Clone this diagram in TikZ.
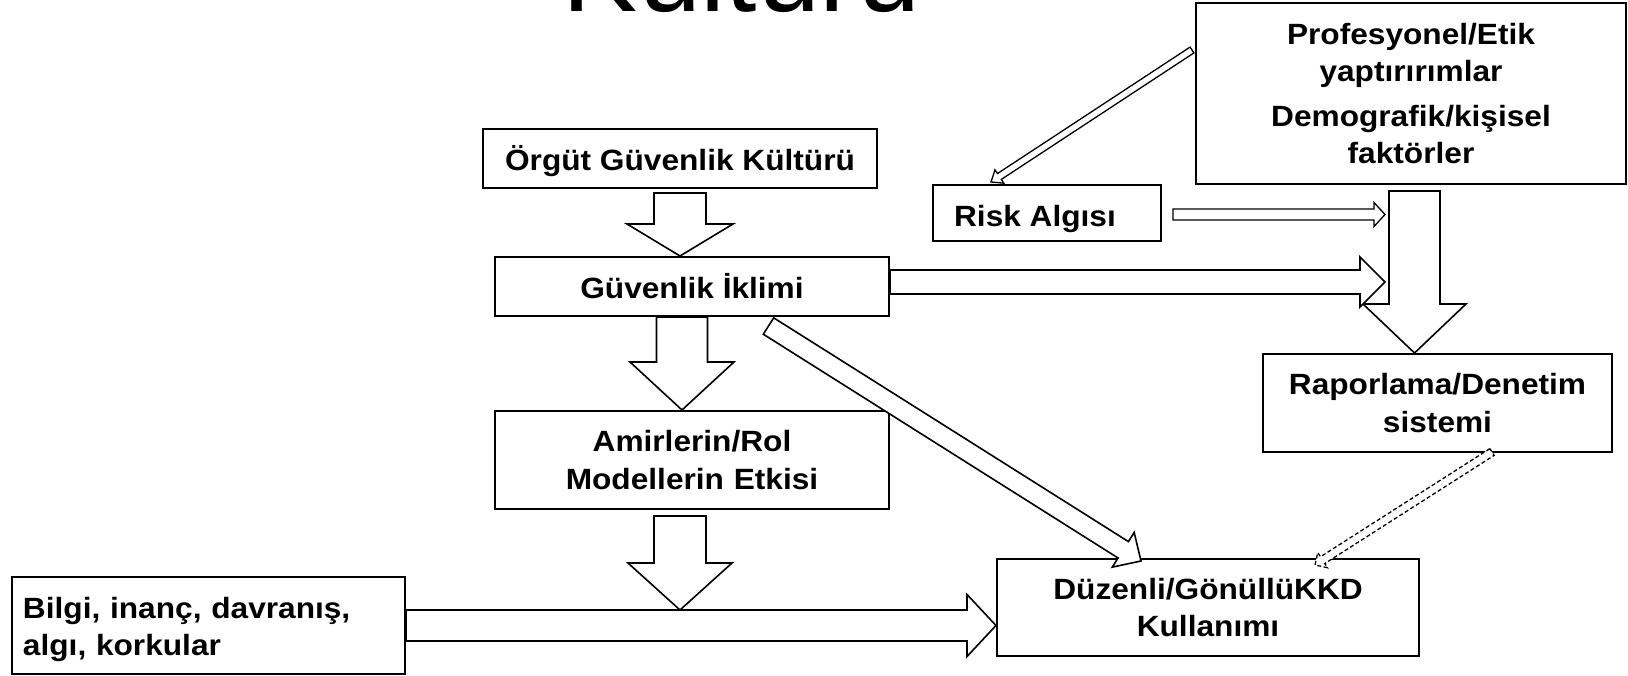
\documentclass[tikz,border=0pt]{standalone}
\usepackage{fontspec}
\setmainfont{Liberation Sans}[FakeStretch=1.08]
\newfontfamily\titlefont{Liberation Sans}
\usetikzlibrary{calc}
\tikzset{
  box/.style={draw, line width=2pt, inner sep=0pt, align=center,
    font=\bfseries\fontsize{29.3}{37.5}\selectfont},
  oneline/.style={text height=23.5pt, text depth=0pt},
  barrow/.style={draw, fill=white, line width=1.6pt, line join=miter},
  thinarrow/.style={draw, fill=white, line width=1.3pt, line join=miter},
  dasharrow/.style={draw, fill=white, line width=1.3pt, dash pattern=on 4pt off 2.5pt},
}
% #1 style, #2 start, #3 tip, #4 shaft half width, #5 head half width, #6 head length
\newcommand\blockarrow[6][barrow]{%
  \path[#1] let \p1=(#2), \p2=(#3), \n1={atan2(\y2-\y1,\x2-\x1)},
    \n2={veclen(\x2-\x1,\y2-\y1)} in
    [shift={(\p1)}, rotate=\n1]
    (0pt,-#4pt) -- ({\n2-#6pt},-#4pt) -- ({\n2-#6pt},-#5pt) -- (\n2,0pt)
    -- ({\n2-#6pt},#5pt) -- ({\n2-#6pt},#4pt) -- (0pt,#4pt) -- cycle;}
\begin{document}
\begin{tikzpicture}[x=1pt,y=-1pt]
\useasboundingbox (0,0) rectangle (1628,676);
\fill[white] (0,0) rectangle (1628,676);

\node[anchor=base, inner sep=0pt, font=\titlefont\fontsize{112.7}{120}\selectfont] (title) at (741.5,12) {Kültürü};

\node[box, oneline, minimum width=394, minimum height=59] (org) at (680,158.5) {Örgüt Güvenlik Kültürü};
\node[box, oneline, minimum width=394, minimum height=59] (guv) at (692,286.5) {Güvenlik İklimi};
\node[box, text width=394, minimum height=98] (amir) at (692,460) {Amirlerin/Rol\\Modellerin Etkisi};
\node[box, align=left, text width=371, inner xsep=11pt, minimum height=97] (bilgi) at (208.5,625.5) {\rule{0pt}{29.5pt}Bilgi, inanç, davranış,\\algı, korkular};
\node[box, text width=422, minimum height=97] (duz) at (1208,607.5) {Düzenli/GönüllüKKD\\Kullanımı};
\node[box, text width=430, minimum height=181] (prof) at (1411,93.5) {Profesyonel/Etik\\yaptırırımlar\\[7pt]Demografik/kişisel\\faktörler};
\node[box, text height=27pt, text depth=0pt, minimum width=228, minimum height=56] (risk) at (1047,213) {\hspace*{-24pt}Risk Algısı};
\node[box, text width=349, minimum height=98] (rap) at (1437.5,403) {Raporlama/Denetim\\sistemi};

% arrow end points
\coordinate (a1) at ($(org.south)+(0,4)$);
\coordinate (a2) at (a1 |- guv.north);
\coordinate (b1) at ($(guv.south)+(-10,0)$);
\coordinate (b2) at (b1 |- amir.north);
\coordinate (c1) at ($(amir.south)+(-12,6)$);
\coordinate (c2) at ($(c1 |- bilgi.east)+(0,-15.5)$);
\coordinate (d2) at (bilgi.east -| duz.west);
\coordinate (g2) at ($(rap.north)+(-23,0)$);
\coordinate (g1) at ($(g2)+(0,-162)$);
\coordinate (e1) at ($(guv.east)+(0,-4.5)$);
\coordinate (e2) at ($(e1 -| g2)+(-29.5,0)$);
\coordinate (f1) at ($(risk.east)+(11,1.5)$);
\coordinate (f2) at ($(f1 -| g2)+(-29.5,0)$);
\coordinate (h1) at ($(guv.south east)+(-121.5,9)$);
\coordinate (h2) at ($(duz.north west)+(145,3)$);
\coordinate (i1) at ($(rap.south east)+(-121,-1)$);
\coordinate (i2) at ($(duz.north)+(107,7)$);
\coordinate (p1) at ($(prof.west)+(-3,-43.5)$);
\coordinate (p2) at ($(risk.north west)+(59,-2)$);

\blockarrow{a1}{a2}{26}{53}{32}
\blockarrow{b1}{b2}{25.5}{52}{48}
\blockarrow{g1}{g2}{25.5}{51.5}{49}
\blockarrow{e1}{e2}{12}{25}{25}
\blockarrow[thinarrow]{f1}{f2}{5.5}{12}{11}
\blockarrow{bilgi.east}{d2}{15.5}{31}{29}
\blockarrow{c1}{c2}{26}{52}{47}
\blockarrow{h1}{h2}{9.7}{20.5}{21}
\blockarrow[dasharrow]{i1}{i2}{4}{9}{9}
\blockarrow[thinarrow]{p1}{p2}{3.5}{8}{10}
\end{tikzpicture}
\end{document}
